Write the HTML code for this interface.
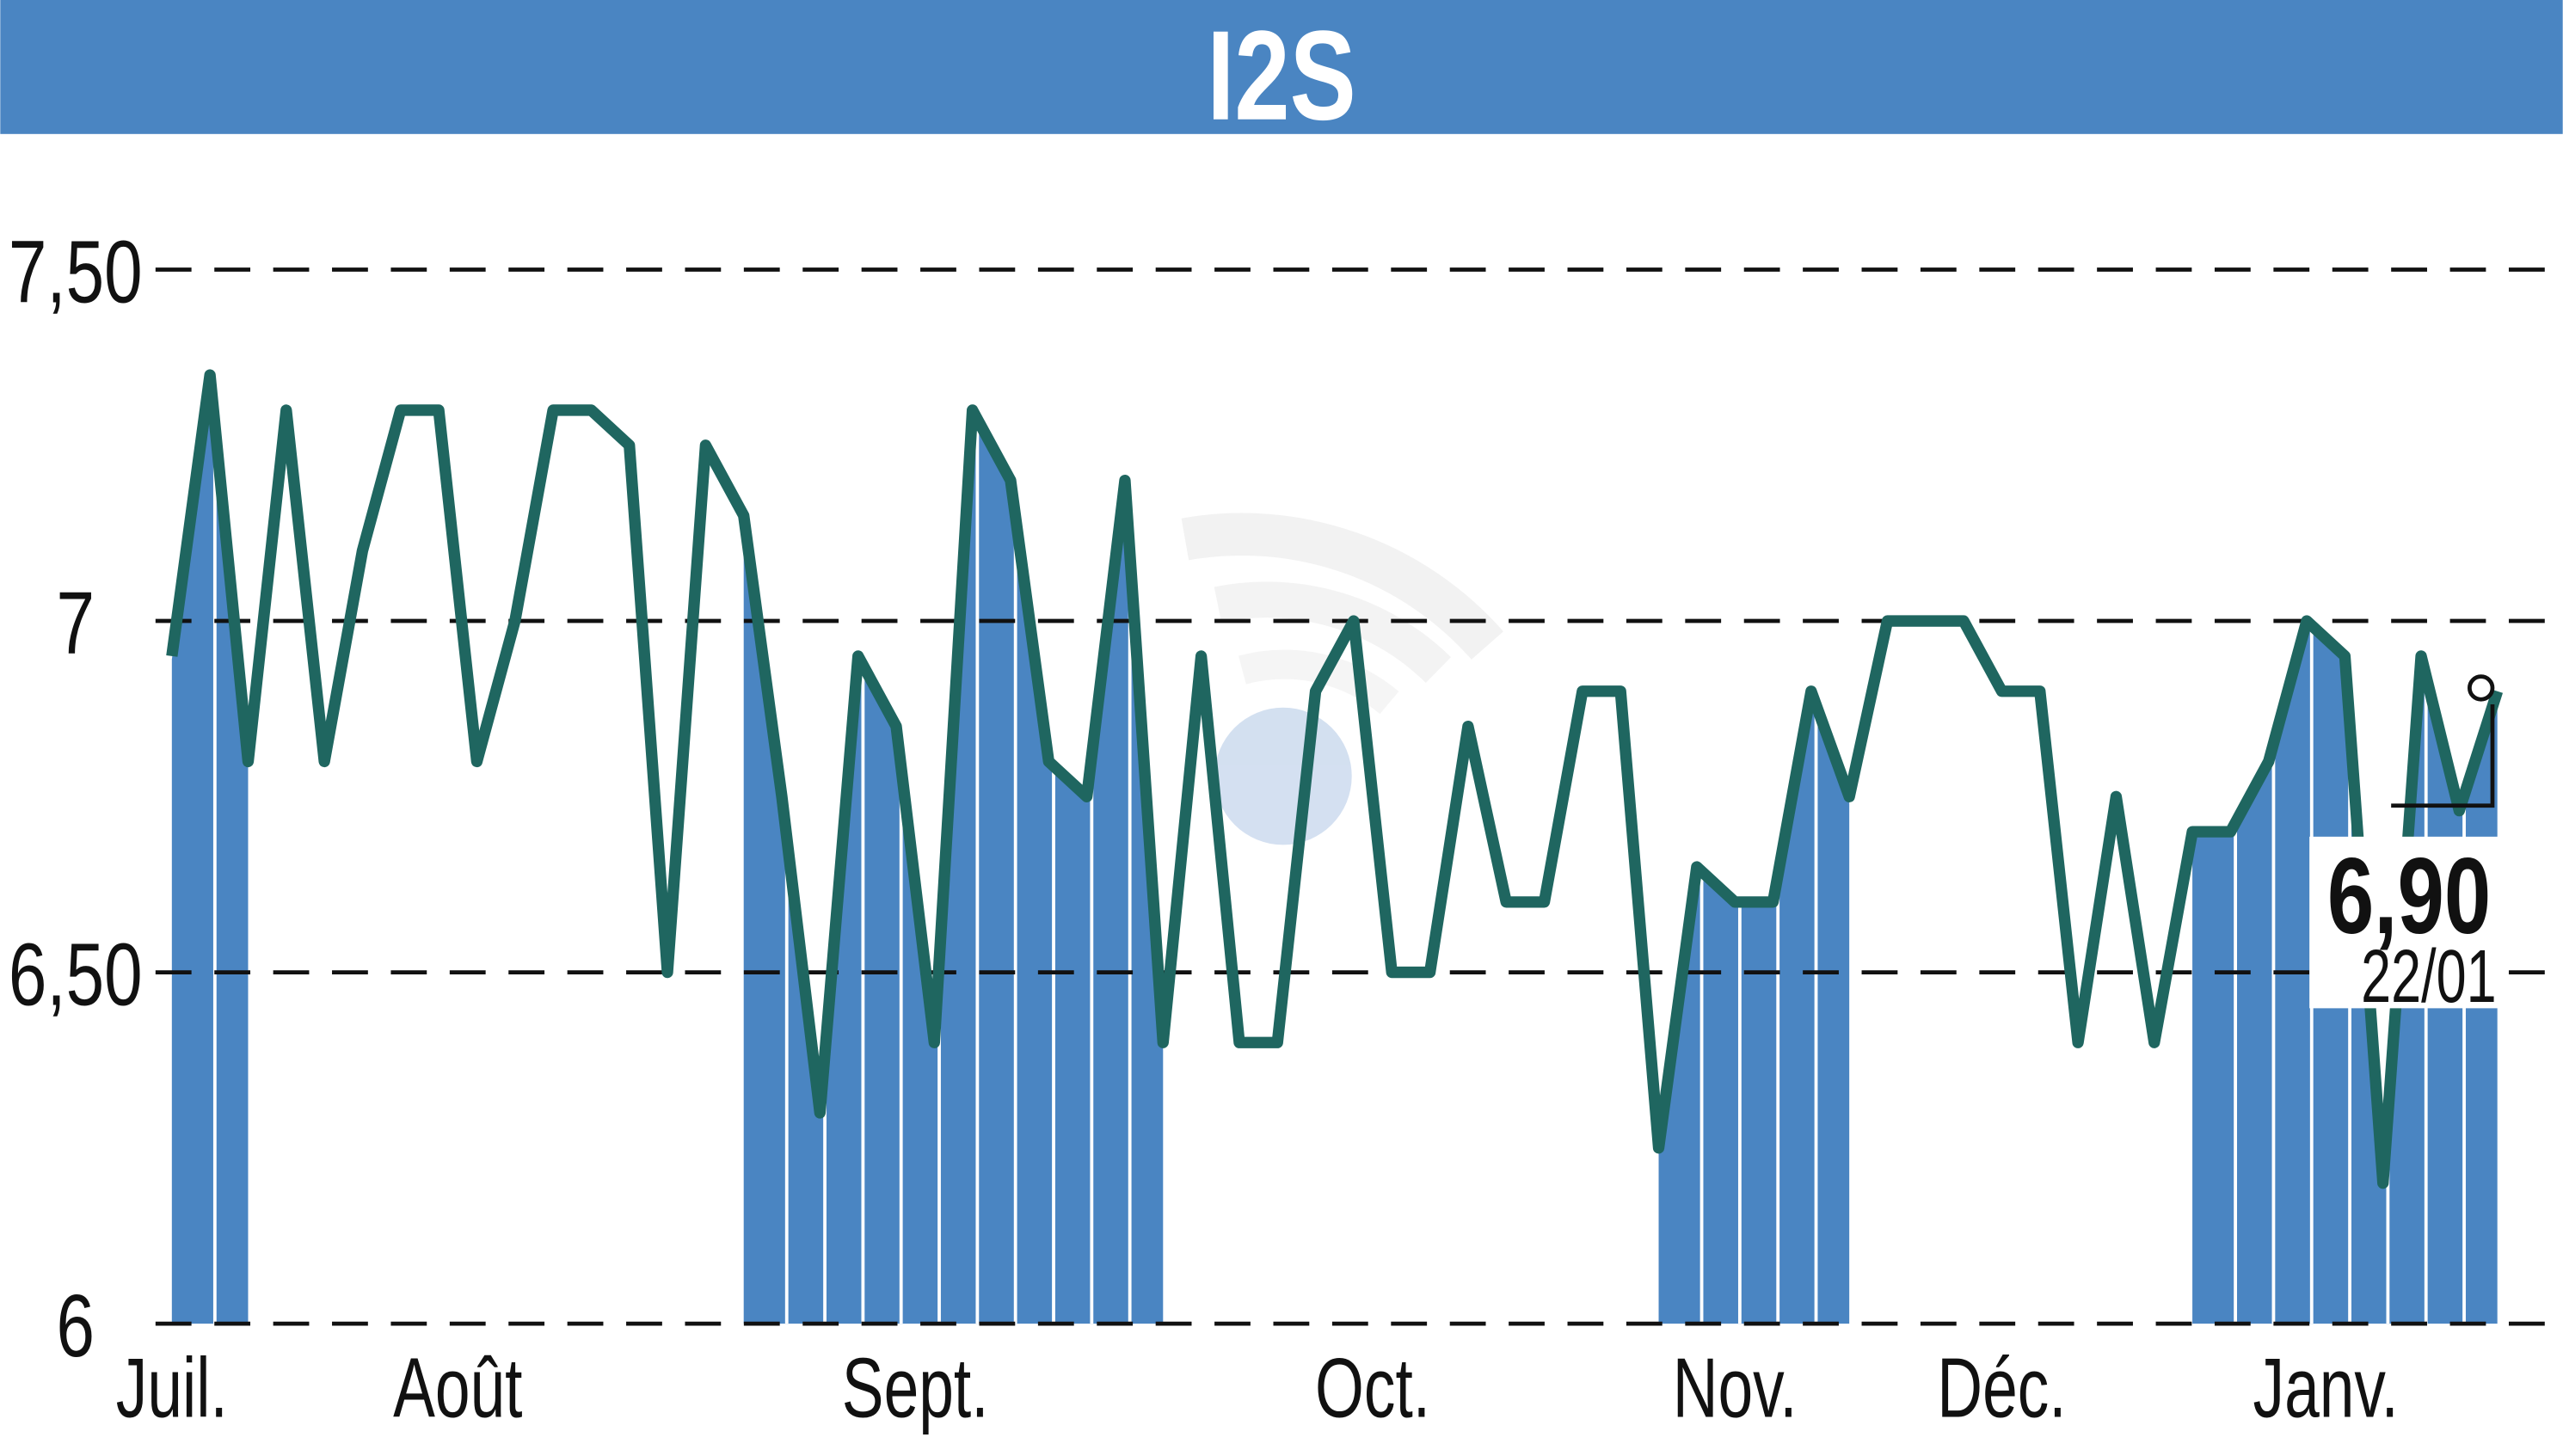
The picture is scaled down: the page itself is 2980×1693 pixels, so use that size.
<!DOCTYPE html>
<html><head><meta charset="utf-8"><style>
html,body{margin:0;padding:0;background:#fff;}
svg{display:block;}
</style></head><body>
<svg id="chart" width="2980" height="1693" viewBox="0 0 1568 891" xmlns="http://www.w3.org/2000/svg" font-family="'Liberation Sans', sans-serif">
  <rect x="0" y="0" width="1568" height="82" fill="#4a85c2"/>
  <text x="784" y="73" text-anchor="middle" fill="#fff" font-size="78" font-weight="bold" transform="translate(784 0) scale(0.78 1) translate(-784 0)">I2S</text>
  <g opacity="0.45">
    <path d="M725 330 A200 200 0 0 1 910 395" stroke="#e3e3e3" stroke-width="26" fill="none"/>
    <path d="M745 370 A150 150 0 0 1 880 410" stroke="#e6e6e6" stroke-width="22" fill="none"/>
    <path d="M760 410 A100 100 0 0 1 850 430" stroke="#eaeaea" stroke-width="18" fill="none"/>
    <circle cx="785" cy="475" r="42" fill="#9fbbe0"/>
  </g>
  <g id="bars"></g>
  <g id="grid"></g>
  <g id="line"></g>
  <g id="xlabels"></g>
  <g id="anno"></g>
</svg>
<script>
const values = [6.95,7.35,6.80,7.30,6.80,7.10,7.30,7.30,6.80,7.00,7.30,7.30,7.25,6.50,7.25,7.15,6.75,6.30,6.95,6.85,6.40,7.30,7.20,6.80,6.75,7.20,6.40,6.95,6.40,6.40,6.90,7.00,6.50,6.50,6.85,6.60,6.60,6.90,6.90,6.25,6.65,6.60,6.60,6.90,6.75,7.00,7.00,7.00,6.90,6.90,6.40,6.75,6.40,6.70,6.70,6.80,7.00,6.95,6.20,6.95,6.73,6.90];
const shadeStart = [0,15,39,53];
const shadeEnd = [2,26,44,61];
const yTicks = [6,6.5,7,7.5];
const yTickLabels = ["6","6,50","7","7,50"];
const monthLabels = ["Juil.","Août","Sept.","Oct.","Nov.","Déc.","Janv."];
const monthIndex = [0,7.5,19.5,31.5,41,48,56.5];
const lastValue = "6,90", lastDate = "22/01";

const NS="http://www.w3.org/2000/svg";
const x0=105, x1=1528;
const xS=i=>x0+(x1-x0)*i/(values.length-1);
const yS=v=>810-(v-6)*430;
function mk(tag,attrs,parent){const e=document.createElementNS(NS,tag);for(const k in attrs)e.setAttribute(k,attrs[k]);document.getElementById(parent).appendChild(e);return e;}

yTicks.forEach((t,i)=>{
  const l=mk('line',{x1:95,x2:1568,y1:yS(t),y2:yS(t),stroke:'#111','stroke-width':2.5,'stroke-dasharray':'22 14'},'grid');
  
  
  const tx=mk('text',{x:46,y:yS(t)+20,'text-anchor':'middle','font-size':54,fill:'#111',transform:`translate(46 0) scale(0.78 1) translate(-46 0)`},'grid');
  tx.textContent=yTickLabels[i];
  
  
});

shadeStart.forEach((s,k)=>{
  const e=shadeEnd[k];
  let p=`${xS(s)},810 `;
  for(let i=s;i<=e;i++) p+=`${xS(i)},${yS(values[i])+2} `;
  p+=`${xS(e)},810`;
  const a=mk('polygon',{points:p,fill:'#4a85c2'},'bars');
  
  
  for(let i=s+1;i<e;i++){
    const top=Math.min(yS(values[i]),yS(values[i+1]))-10;
    const g=mk('rect',{x:xS(i)+2,y:top,width:2,height:810-top,fill:'#fff'},'bars');
    
    
  }
});

const pts=values.map((v,i)=>xS(i)+','+yS(v)).join(' ');
const pl=mk('polyline',{points:pts,fill:'none',stroke:'#1f6660','stroke-width':7,'stroke-linejoin':'round'},'line');



monthLabels.forEach((m,i)=>{
  const cx=xS(monthIndex[i]);
  const t=mk('text',{x:cx,y:867,'text-anchor':'middle','font-size':52,fill:'#111',transform:`translate(${cx} 0) scale(0.74 1) translate(${-cx} 0)`},'xlabels');
  t.textContent=m;
  
  
});

const lx=xS(values.length-1), ly=yS(values[values.length-1]);
const a1=mk('polyline',{points:`1463,493 1525,493 1525,${ly+8}`,fill:'none',stroke:'#111','stroke-width':2.5},'anno');


const c=mk('circle',{cx:1518,cy:ly-2,r:7,fill:'#fff',stroke:'#111','stroke-width':2.5},'anno');


const bg=mk('rect',{x:1413,y:512,width:117,height:105,fill:'#fff'},'anno');


const t1=mk('text',{x:1474,y:571,'text-anchor':'middle','font-size':66,'font-weight':'bold',fill:'#111',transform:'translate(1474 0) scale(0.78 1) translate(-1474 0)'},'anno');
t1.textContent=lastValue;


const t2=mk('text',{x:1486,y:613,'text-anchor':'middle','font-size':46,fill:'#111',transform:'translate(1486 0) scale(0.72 1) translate(-1486 0)'},'anno');
t2.textContent=lastDate;


</script>
</body></html>
